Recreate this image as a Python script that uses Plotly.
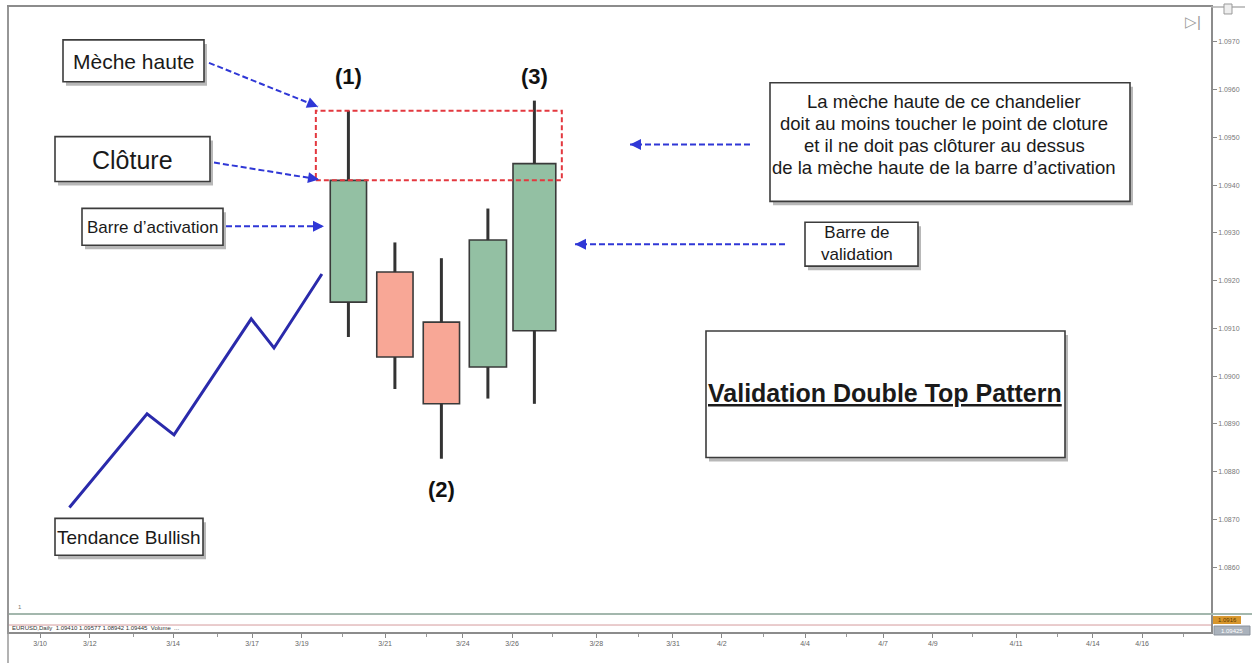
import plotly.graph_objects as go

# ---------------- data ----------------
candle_idx = [0, 1, 2, 3, 4]
candle_open = [1.09155, 1.09218, 1.09113, 1.09019, 1.09095]
candle_high = [1.09556, 1.09280, 1.09247, 1.09351, 1.09577]
candle_low = [1.09082, 1.08973, 1.08827, 1.08953, 1.08942]
candle_close = [1.09410, 1.09040, 1.08942, 1.09285, 1.09445]

trend_x = [-6.0, -4.33, -3.75, -2.09, -1.60, -0.57]
trend_y = [1.08725, 1.08921, 1.08877, 1.09120, 1.09059, 1.09214]

price_ticks = [1.0970, 1.0960, 1.0950, 1.0940, 1.0930, 1.0920,
               1.0910, 1.0900, 1.0890, 1.0880, 1.0870, 1.0860]
price_labels = ["%.4f" % v for v in price_ticks]

date_labels = ["3/10", "3/12", "3/14", "3/17", "3/19", "3/21", "3/24", "3/26",
               "3/28", "3/31", "4/2", "4/4", "4/7", "4/9", "4/11", "4/14", "4/16"]
date_pos = [-6.63, -5.56, -3.77, -2.07, -1.00, 0.79, 2.46, 3.52,
            5.33, 6.98, 8.03, 9.82, 11.50, 12.57, 14.36, 16.01, 17.07]
date_minor_pos = [-4.63, -2.81, -0.12, 1.69, 4.40, 6.23, 8.92, 10.72, 13.43, 15.26, 17.95]

rule_lines = ["La mèche haute de ce chandelier",
              "doit au moins toucher le point de cloture",
              "et il ne doit pas clôturer au dessus",
              "de la mèche haute de la barre d’activation"]

# ---------------- layout constants ----------------
W, H = 1252, 663
ML, MR, MT, MB = 9, 41, 5, 31
PW, PH = W - ML - MR, H - MT - MB
X_RANGE = [-7.299, 18.551]
Y_RANGE = [1.084641, 1.097731]
FONT = "Liberation Sans, Arial, Helvetica, sans-serif"
BODY_W = [0.78, 0.78, 0.78, 0.80, 0.92]
GREEN = "#93c0a3"
RED = "#f8a796"
EDGE = "#3a3a3a"
BLUE = "#2f37d6"


def px_x(p):
    return (p - ML) / PW


def px_y(p):
    return (MT + PH - p) / PH


fig = go.Figure()

# trend line
fig.add_trace(go.Scatter(x=trend_x, y=trend_y, mode="lines",
                         line=dict(color="#2a2aab", width=3), hoverinfo="skip"))

# wicks (drawn outside body only)
wx, wy = [], []
for i, o, h, l, c in zip(candle_idx, candle_open, candle_high, candle_low, candle_close):
    top, bot = max(o, c), min(o, c)
    wx += [i, i, None, i, i, None]
    wy += [h, top, None, bot, l, None]
fig.add_trace(go.Scatter(x=wx, y=wy, mode="lines",
                         line=dict(color="#333333", width=3), hoverinfo="skip"))

# bodies
fig.add_trace(go.Bar(
    x=candle_idx,
    y=[abs(c - o) for o, c in zip(candle_open, candle_close)],
    base=[min(o, c) for o, c in zip(candle_open, candle_close)],
    width=BODY_W,
    marker=dict(color=[GREEN if c >= o else RED for o, c in zip(candle_open, candle_close)],
                line=dict(color=EDGE, width=1.6)),
    hoverinfo="skip",
))

shapes = []
annotations = []

# red dashed zone: from close of activation bar to its upper wick
shapes.append(dict(type="rect", xref="x", yref="y", x0=-0.70, x1=4.59,
                   y0=candle_close[0], y1=candle_high[0],
                   line=dict(color="#e3383f", width=2, dash="5px,3px"),
                   fillcolor="rgba(0,0,0,0)", layer="above"))


def box(x0, y0, x1, y1):
    shapes.append(dict(type="rect", xref="paper", yref="paper",
                       x0=px_x(x0 + 3), x1=px_x(x1 + 3), y0=px_y(y0 + 4), y1=px_y(y1 + 4),
                       line=dict(width=0), fillcolor="rgba(0,0,0,0.28)", layer="above"))
    shapes.append(dict(type="rect", xref="paper", yref="paper",
                       x0=px_x(x0), x1=px_x(x1), y0=px_y(y0), y1=px_y(y1),
                       line=dict(color="#3c3c3c", width=1.6), fillcolor="white", layer="above"))


def text(cx, cy, t, size, color="#1a1a1a", **kw):
    annotations.append(dict(xref="paper", yref="paper", x=px_x(cx), y=px_y(cy),
                            text=t, showarrow=False, xanchor="center", yanchor="middle",
                            font=dict(family=FONT, size=size, color=color), **kw))


def arrow(sx, sy, tx, ty):
    shapes.append(dict(type="line", xref="paper", yref="paper",
                       x0=px_x(sx), y0=px_y(sy), x1=px_x(tx), y1=px_y(ty),
                       line=dict(color=BLUE, width=2, dash="6px,3px"), layer="above"))
    dx, dy = sx - tx, sy - ty
    n = (dx * dx + dy * dy) ** 0.5
    annotations.append(dict(xref="paper", yref="paper", x=px_x(tx), y=px_y(ty),
                            ax=dx / n * 10, ay=dy / n * 10, axref="pixel", ayref="pixel",
                            text="", showarrow=True, arrowhead=2, arrowsize=1.1,
                            arrowwidth=2, arrowcolor=BLUE, standoff=0))


# boxes
box(63, 38, 204, 80)
text(133, 60, "Mèche haute", 21)
box(55, 135, 210, 180)
text(132, 158, "Clôture", 25)
box(82, 207, 223, 244)
text(152, 226, "Barre d’activation", 17)
box(770, 81, 1130, 200)
for k, line in enumerate(rule_lines):
    text(944, 100 + 22 * k, line, 18.5)
box(805, 221, 918, 265)
text(857, 242, "Barre de<br>validation", 17)
box(706, 330, 1065, 457)
text(885, 392, "<b><u>Validation Double Top Pattern</u></b>", 25)
box(55, 518, 203, 555)
text(129, 537, "Tendance Bullish", 19)

# arrows
arrow(209, 61, 318, 105)
arrow(214, 161, 319, 178)
arrow(226, 225, 324, 225)
arrow(750, 143, 630, 143)
arrow(785, 243, 575, 243)

# candle numbering
annotations.append(dict(xref="x", yref="y", x=candle_idx[0], y=candle_high[0], yshift=34,
                        text="<b>(1)</b>", showarrow=False,
                        font=dict(family=FONT, size=22, color="#111")))
annotations.append(dict(xref="x", yref="y", x=candle_idx[4], y=candle_high[4], yshift=24,
                        text="<b>(3)</b>", showarrow=False,
                        font=dict(family=FONT, size=22, color="#111")))
annotations.append(dict(xref="x", yref="y", x=candle_idx[2], y=candle_low[2], yshift=-31,
                        text="<b>(2)</b>", showarrow=False,
                        font=dict(family=FONT, size=22, color="#111")))

# chart chrome: bottom panels, frame lines, icons
shapes.append(dict(type="line", xref="paper", yref="paper", x0=px_x(9), x1=px_x(1252),
                   y0=px_y(614), y1=px_y(614), line=dict(color="#a3b7ad", width=2)))
shapes.append(dict(type="line", xref="paper", yref="paper", x0=px_x(9), x1=px_x(1211),
                   y0=px_y(625), y1=px_y(625), line=dict(color="#d49a9c", width=1)))
shapes.append(dict(type="line", xref="paper", yref="paper", x0=px_x(8), x1=px_x(8),
                   y0=px_y(663), y1=px_y(5), line=dict(color="#9a9a9a", width=1.5)))
shapes.append(dict(type="line", xref="paper", yref="paper", x0=px_x(1211), x1=px_x(1245),
                   y0=px_y(5), y1=px_y(5), line=dict(color="#b0b0b0", width=1.5)))
shapes.append(dict(type="rect", xref="paper", yref="paper", x0=px_x(1224), x1=px_x(1232),
                   y0=px_y(12), y1=px_y(2), line=dict(color="#999", width=1), fillcolor="#eee"))
shapes.append(dict(type="rect", xref="paper", yref="paper", x0=px_x(1213), x1=px_x(1241),
                   y0=px_y(624), y1=px_y(616), line=dict(width=0), fillcolor="#d7962d"))
shapes.append(dict(type="rect", xref="paper", yref="paper", x0=px_x(1214), x1=px_x(1250),
                   y0=px_y(635), y1=px_y(626), line=dict(color="#8a929c", width=1),
                   fillcolor="#aab2bc"))
text(1227, 620, "1.0916", 6, color="#5a3a00")
text(1232, 631, "1.09425", 6, color="white")
text(1193, 20, "▷|", 15, color="#9a9a9a")
text(20, 607, "1", 6, color="#777")
annotations.append(dict(xref="paper", yref="paper", x=px_x(10), y=px_y(628),
                        xanchor="left", yanchor="middle", showarrow=False,
                        text="EURUSD,Daily  1.09410 1.09577 1.08942 1.09445  Volume  ...",
                        font=dict(family=FONT, size=6, color="#333")))

fig.update_layout(
    width=W, height=H,
    margin=dict(l=ML, r=MR, t=MT, b=MB),
    paper_bgcolor="white", plot_bgcolor="white",
    showlegend=False,
    shapes=shapes, annotations=annotations,
    xaxis=dict(range=X_RANGE, showgrid=False, zeroline=False, showline=True,
               linecolor="#8c8c8c", linewidth=1.5, mirror=True,
               tickmode="array", tickvals=date_pos, ticktext=date_labels,
               ticks="outside", ticklen=4, tickcolor="#888",
               tickfont=dict(family=FONT, size=7, color="#666"),
               minor=dict(tickmode="array", tickvals=date_minor_pos, ticks="outside",
                          ticklen=3, tickcolor="#999")),
    yaxis=dict(range=Y_RANGE, side="right", showgrid=False, zeroline=False, showline=True,
               linecolor="#8c8c8c", linewidth=1.5, mirror=True,
               tickmode="array", tickvals=price_ticks, ticktext=price_labels,
               ticks="outside", ticklen=4, tickcolor="#888",
               tickfont=dict(family=FONT, size=7, color="#777")),
)

fig.write_html("out.html", config={"displayModeBar": False},
               post_script="document.body.style.margin='0';document.body.style.overflow='hidden';")
